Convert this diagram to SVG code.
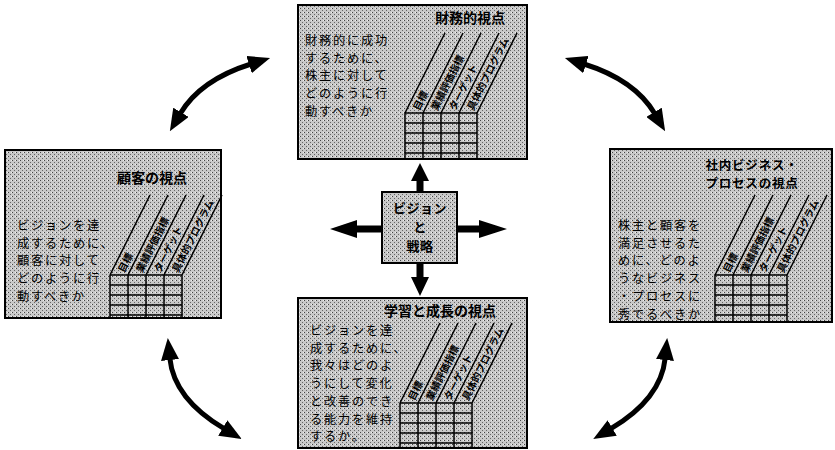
<svg xmlns="http://www.w3.org/2000/svg" width="835" height="450" viewBox="0 0 835 450">
<defs>
<pattern id="stip" width="4" height="4" patternUnits="userSpaceOnUse">
<rect width="4" height="4" fill="#c8c8c8"/>
<rect x="0" y="0" width="1" height="1" fill="#444"/>
<rect x="2" y="2" width="1" height="1" fill="#666"/>
<rect x="3" y="0" width="1" height="1" fill="#eee"/>
</pattern>
<marker id="ah" markerUnits="userSpaceOnUse" viewBox="0 0 22 18" markerWidth="22" markerHeight="18" refX="2" refY="9" orient="auto-start-reverse">
<path d="M0,0 L22,9 L0,18 Z" fill="#000"/>
</marker>
</defs>
<style>
.box{fill:url(#stip);stroke:#000;stroke-width:2}
.body{font-family:"Noto Sans CJK JP","Noto Sans",sans-serif;font-size:12.2px;letter-spacing:1.8px;fill:#000}
.title{font-family:"Noto Sans CJK JP","Noto Sans",sans-serif;font-size:14px;font-weight:bold;fill:#000;text-anchor:middle}
.title2{font-family:"Noto Sans CJK JP","Noto Sans",sans-serif;font-size:12.5px;letter-spacing:0.8px;font-weight:bold;fill:#000;text-anchor:middle}
.ctr{font-family:"Noto Sans CJK JP","Noto Sans",sans-serif;font-size:13px;letter-spacing:0.5px;font-weight:bold;fill:#000;text-anchor:middle}
.col{font-family:"Noto Sans CJK JP","Noto Sans",sans-serif;font-size:10px;font-weight:bold;fill:#000}
.grid{stroke:#000;stroke-width:1.5;fill:none}
.curve{fill:none;stroke:#000;stroke-width:5}
</style>
<rect width="835" height="450" fill="#fff"/>

<g id="financial">
<rect class="box" x="298" y="5" width="229" height="154"/>
<text class="title" x="470" y="23">財務的視点</text>
<text class="body"><tspan x="305" y="45">財務的に成功</tspan><tspan x="305" y="62.7">するために、</tspan><tspan x="305" y="80.4">株主に対して</tspan><tspan x="305" y="98.1">どのように行</tspan><tspan x="305" y="115.8">動すべきか</tspan></text>
<path class="grid" d="M405,113H477M405,123H477M405,133H477M405,143H477M405,153H477M405,113V159M423,113V159M441,113V159M459,113V159M477,113V159M405,113L445,33M423,113L463,33M441,113L481,33M459,113L499,33M477,113L517,33"/>
<text class="col" transform="translate(414,113) rotate(-63.43)"><tspan x="4" y="4">目標</tspan><tspan x="12.05" y="20.1">業績評価指標</tspan><tspan x="20.1" y="36.2">ターゲット</tspan><tspan x="28.15" y="52.3">具体的プログラム</tspan></text>
</g>

<g id="customer">
<rect class="box" x="5" y="150" width="216" height="168"/>
<text class="title" x="152" y="183">顧客の視点</text>
<text class="body"><tspan x="17" y="230">ビジョンを達</tspan><tspan x="17" y="247.7">成するために、</tspan><tspan x="17" y="265.4">顧客に対して</tspan><tspan x="17" y="283.1">どのように行</tspan><tspan x="17" y="300.8">動すべきか</tspan></text>
<path class="grid" d="M110,275H182M110,285H182M110,295H182M110,305H182M110,315H182M110,275V318M128,275V318M146,275V318M164,275V318M182,275V318M110,275L150,195M128,275L168,195M146,275L186,195M164,275L204,195M182,275L222,195"/>
<text class="col" transform="translate(119,275) rotate(-63.43)"><tspan x="4" y="4">目標</tspan><tspan x="12.05" y="20.1">業績評価指標</tspan><tspan x="20.1" y="36.2">ターゲット</tspan><tspan x="28.15" y="52.3">具体的プログラム</tspan></text>
</g>

<g id="process">
<rect class="box" x="610" y="149" width="222" height="173"/>
<text class="title2"><tspan x="752" y="169.5">社内ビジネス・</tspan><tspan x="752" y="187.7">プロセスの視点</tspan></text>
<text class="body"><tspan x="618" y="230">株主と顧客を</tspan><tspan x="618" y="247.7">満足させるた</tspan><tspan x="618" y="265.4">めに、どのよ</tspan><tspan x="618" y="283.1">うなビジネス</tspan><tspan x="618" y="300.8">・プロセスに</tspan><tspan x="618" y="318.5">秀でるべきか</tspan></text>
<path class="grid" d="M715,275H787M715,285H787M715,295H787M715,305H787M715,315H787M715,275V322M733,275V322M751,275V322M769,275V322M787,275V322M715,275L755,195M733,275L773,195M751,275L791,195M769,275L809,195M787,275L827,195"/>
<text class="col" transform="translate(724,275) rotate(-63.43)"><tspan x="4" y="4">目標</tspan><tspan x="12.05" y="20.1">業績評価指標</tspan><tspan x="20.1" y="36.2">ターゲット</tspan><tspan x="28.15" y="52.3">具体的プログラム</tspan></text>
</g>

<g id="learning">
<rect class="box" x="298" y="298" width="229" height="150"/>
<text class="title" x="440" y="316">学習と成長の視点</text>
<text class="body"><tspan x="310" y="335">ビジョンを達</tspan><tspan x="310" y="352.7">成するために、</tspan><tspan x="310" y="370.4">我々はどのよ</tspan><tspan x="310" y="388.1">うにして変化</tspan><tspan x="310" y="405.8">と改善のでき</tspan><tspan x="310" y="423.5">る能力を維持</tspan><tspan x="310" y="441.2">するか。</tspan></text>
<path class="grid" d="M400,403H472M400,413H472M400,423H472M400,433H472M400,443H472M400,403V448M418,403V448M436,403V448M454,403V448M472,403V448M400,403L440,323M418,403L458,323M436,403L476,323M454,403L494,323M472,403L512,323"/>
<text class="col" transform="translate(409,403) rotate(-63.43)"><tspan x="4" y="4">目標</tspan><tspan x="12.05" y="20.1">業績評価指標</tspan><tspan x="20.1" y="36.2">ターゲット</tspan><tspan x="28.15" y="52.3">具体的プログラム</tspan></text>
</g>

<g id="vision">
<rect class="box" x="382" y="192" width="75" height="71"/>
<text class="ctr"><tspan x="420" y="213">ビジョン</tspan><tspan x="420" y="232">と</tspan><tspan x="420" y="251">戦略</tspan></text>
</g>

<g id="connectors">
<path d="M416.5,192V181H411L420,163L429,181H423.5V192Z" fill="#000"/>
<path d="M416.5,263V277H411L420,296L429,277H423.5V263Z" fill="#000"/>
<path d="M382,225.5H357V220L330,229L357,238V232.5H382Z" fill="#000"/>
<path d="M457,225.5H479V220L507,229L479,238V232.5H457Z" fill="#000"/>
<path class="curve" d="M180,114Q200,80 251,64" marker-start="url(#ah)" marker-end="url(#ah)"/>
<path class="curve" d="M655,114Q635,80 584,64" marker-start="url(#ah)" marker-end="url(#ah)"/>
<path class="curve" d="M169.8,358Q173.9,399.1 224.5,428.9" marker-start="url(#ah)" marker-end="url(#ah)"/>
<path class="curve" d="M665.2,358Q661.1,399.1 610.5,428.9" marker-start="url(#ah)" marker-end="url(#ah)"/>
</g>
</svg>
